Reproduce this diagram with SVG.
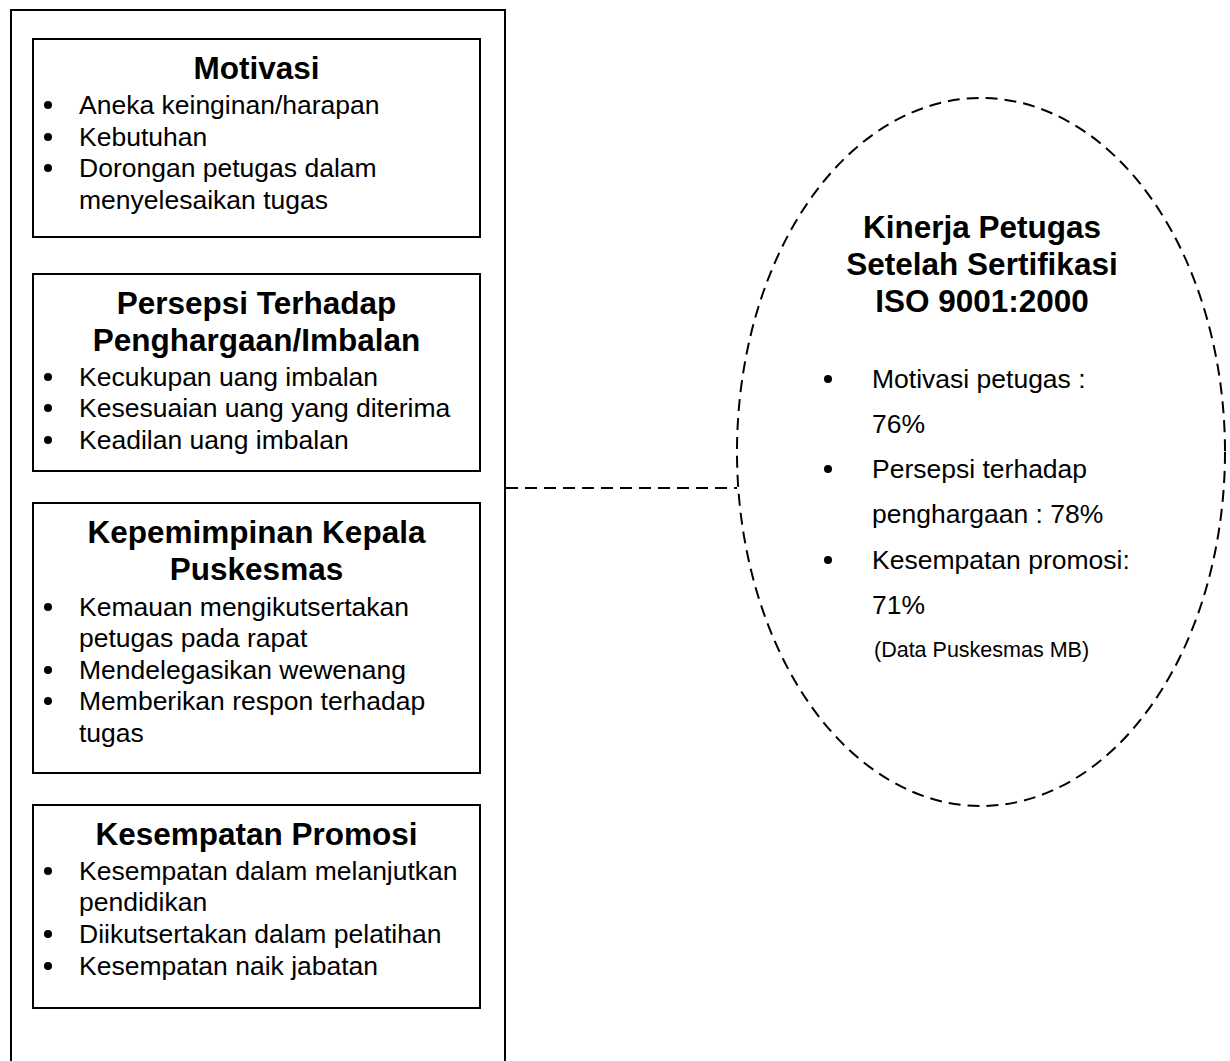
<svg xmlns="http://www.w3.org/2000/svg" width="1230" height="1061" viewBox="0 0 1230 1061">
<style>
  .frame{fill:none;stroke:#000;stroke-width:2}
  .box{fill:#fff;stroke:#000;stroke-width:2}
  .dash{fill:none;stroke:#000;stroke-width:2;stroke-dasharray:12 7}
  .title{font-family:"Liberation Sans",Arial,sans-serif;font-weight:bold;font-size:31.5px;text-anchor:middle;fill:#000}
  .body{font-family:"Liberation Sans",Arial,sans-serif;font-size:26.5px;fill:#000}
  .small{font-family:"Liberation Sans",Arial,sans-serif;font-size:21.5px;fill:#000}
  .dot{fill:#000}
</style>
<rect width="1230" height="1061" fill="#fff"/>
<g id="frame">
  <path class="frame" d="M11,1061 V10 H505 V1061"/>
</g>
<g id="connectors">
  <line class="dash" x1="506" y1="488" x2="737" y2="488"/>
</g>
<g id="motivasi">
  <rect class="box" x="33" y="39" width="447" height="198"/>
  <text class="title" x="256.5" y="79">Motivasi</text>
  <circle class="dot" cx="48" cy="105" r="4"/>
  <text class="body" x="79" y="114">Aneka keinginan/harapan</text>
  <circle class="dot" cx="48" cy="137" r="4"/>
  <text class="body" x="79" y="146">Kebutuhan</text>
  <circle class="dot" cx="48" cy="168" r="4"/>
  <text class="body" x="79" y="177">Dorongan petugas dalam</text>
  <text class="body" x="79" y="209">menyelesaikan tugas</text>
</g>
<g id="persepsi">
  <rect class="box" x="33" y="274" width="447" height="197"/>
  <text class="title" x="256.5" y="314">Persepsi Terhadap</text>
  <text class="title" x="256.5" y="351">Penghargaan/Imbalan</text>
  <circle class="dot" cx="48" cy="377" r="4"/>
  <text class="body" x="79" y="386">Kecukupan uang imbalan</text>
  <circle class="dot" cx="48" cy="408" r="4"/>
  <text class="body" x="79" y="417">Kesesuaian uang yang diterima</text>
  <circle class="dot" cx="48" cy="440" r="4"/>
  <text class="body" x="79" y="449">Keadilan uang imbalan</text>
</g>
<g id="kepemimpinan">
  <rect class="box" x="33" y="503" width="447" height="270"/>
  <text class="title" x="256.5" y="543">Kepemimpinan Kepala</text>
  <text class="title" x="256.5" y="580">Puskesmas</text>
  <circle class="dot" cx="48" cy="607" r="4"/>
  <text class="body" x="79" y="616">Kemauan mengikutsertakan</text>
  <text class="body" x="79" y="647">petugas pada rapat</text>
  <circle class="dot" cx="48" cy="670" r="4"/>
  <text class="body" x="79" y="679">Mendelegasikan wewenang</text>
  <circle class="dot" cx="48" cy="701" r="4"/>
  <text class="body" x="79" y="710">Memberikan respon terhadap</text>
  <text class="body" x="79" y="742">tugas</text>
</g>
<g id="promosi">
  <rect class="box" x="33" y="805" width="447" height="203"/>
  <text class="title" x="256.5" y="845">Kesempatan Promosi</text>
  <circle class="dot" cx="48" cy="871" r="4"/>
  <text class="body" x="79" y="880">Kesempatan dalam melanjutkan</text>
  <text class="body" x="79" y="911">pendidikan</text>
  <circle class="dot" cx="48" cy="934" r="4"/>
  <text class="body" x="79" y="943">Diikutsertakan dalam pelatihan</text>
  <circle class="dot" cx="48" cy="966" r="4"/>
  <text class="body" x="79" y="975">Kesempatan naik jabatan</text>
</g>
<g id="kinerja">
  <ellipse class="dash" cx="981" cy="452" rx="244" ry="354"/>
  <text class="title" x="982" y="238">Kinerja Petugas</text>
  <text class="title" x="982" y="275">Setelah Sertifikasi</text>
  <text class="title" x="982" y="312">ISO 9001:2000</text>
  <circle class="dot" cx="828" cy="379" r="4"/>
  <text class="body" x="872" y="388">Motivasi petugas :</text>
  <text class="body" x="872" y="433">76%</text>
  <circle class="dot" cx="828" cy="469" r="4"/>
  <text class="body" x="872" y="478">Persepsi terhadap</text>
  <text class="body" x="872" y="523">penghargaan : 78%</text>
  <circle class="dot" cx="828" cy="560" r="4"/>
  <text class="body" x="872" y="569">Kesempatan promosi:</text>
  <text class="body" x="872" y="614">71%</text>
  <text class="small" x="874" y="657">(Data Puskesmas MB)</text>
</g>
</svg>
